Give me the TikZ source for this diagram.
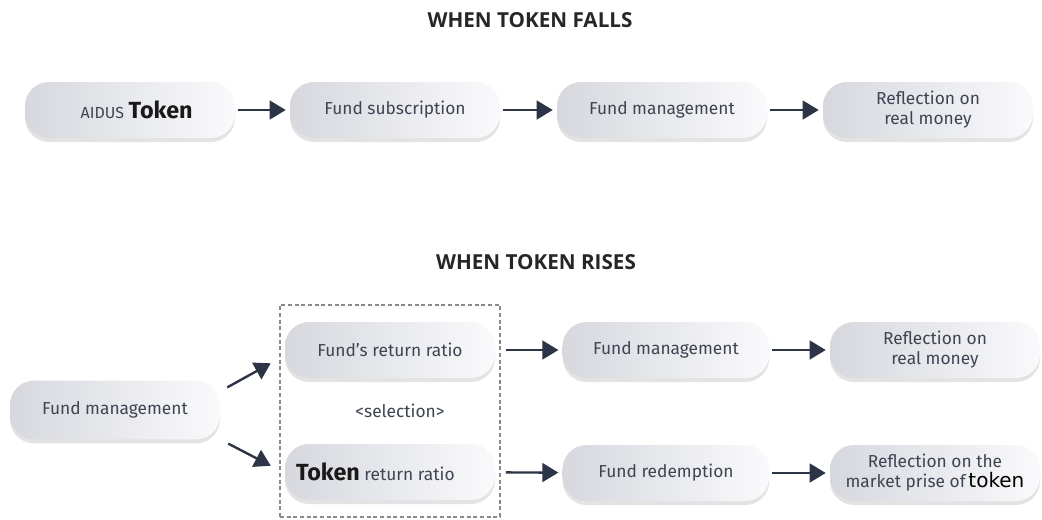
\documentclass[tikz,border=0pt]{standalone}
\usepackage{fontspec}
\setmainfont{Fira Sans}
\newfontfamily\tokfont{DejaVu Sans}
\newfontfamily\ttlfont{Open Sans}
\usetikzlibrary{arrows.meta,shadows,positioning,calc}
\definecolor{txt}{HTML}{3E4452}
\definecolor{arrc}{HTML}{2C3446}
\definecolor{boxL}{HTML}{D6D8DE}
\definecolor{boxR}{HTML}{FAFAFC}
\definecolor{dashc}{HTML}{8A8A8A}
\newcommand{\bigtok}[1]{{\fontsize{17.5}{19}\selectfont\bfseries\color{black!90}#1}}
\begin{document}
\begin{tikzpicture}[x=0.75pt,y=-0.75pt,
  pill/.style={rounded corners=18pt, minimum width=157.5pt, minimum height=42pt,
    left color=boxL, right color=boxR, draw=none, text=txt, align=center,
    font=\fontsize{13}{15}\selectfont,
    drop shadow={shadow xshift=0pt, shadow yshift=-3pt, opacity=0.18, fill=black!60}},
  arr/.style={draw=arrc, line width=1.8pt, -{Triangle[length=12pt,width=14pt]},
    shorten >=3pt, shorten <=2pt},
  ttl/.style={font=\ttlfont\bfseries\fontsize{15.5}{18}\selectfont, text=black!85}]
\useasboundingbox (0,0) rectangle (1042,519);
\fill[white] (0,0) rectangle (1042,519);

\node[ttl] (t1) at (530,20) {WHEN TOKEN FALLS};
\node[ttl] (t2) at (536,262) {WHEN TOKEN RISES};

% row 1
\node[pill] (a) at (130,110) {\hspace*{10pt}{\fontsize{12}{14}\selectfont AIDUS} \bigtok{Token}};
\node[pill] (b) at (395,110) {Fund subscription};
\node[pill] (c) at (662,110) {Fund management};
\node[pill] (d) at (928,110) {Reflection on\\real money};
\draw[arr] (a) -- (b);
\draw[arr] (b) -- (c);
\draw[arr] (c) -- (d);

% row 2
\node[draw=dashc, dash pattern=on 3pt off 2pt, line width=0.8pt, minimum width=165pt, minimum height=159pt] (sel) at (390,411) {};
\node[pill, minimum height=44pt] (fm0) at (115,410) {Fund management};
\node[pill] (fr) at (390,350) {Fund's return ratio};
\node[pill] (tr) at (390,472) {\bigtok{Token} return ratio\hspace*{22pt}};
\node[text=txt, font=\fontsize{13}{15}\selectfont] (seltxt) at (400,411) {<selection>};
\node[pill, minimum width=155pt] (fm2) at (666,350) {Fund management};
\node[pill] (rm) at (935,350) {Reflection on\\real money};
\node[pill, minimum width=155pt] (frd) at (666,473) {Fund redemption};
\node[pill, inner xsep=2pt] (rmp) at (935,473) {Reflection on the\\market prise of\,{\tokfont\fontsize{15}{16}\selectfont\color{black}token}};

\draw[arr, shorten <=0pt, shorten >=0pt] ([shift={(7,7)}]fm0.north east) -- ([shift={(-14,-15)}]fr.south west);
\draw[arr, shorten <=0pt, shorten >=0pt] ([shift={(8,4)}]fm0.south east) -- ([shift={(-14,22)}]tr.north west);
\draw[arr, shorten <=8pt] (fr) -- (fm2);
\draw[arr, shorten <=8pt] (tr) -- (frd);
\draw[arr] (fm2) -- (rm);
\draw[arr] (frd) -- (rmp);
\end{tikzpicture}
\end{document}
